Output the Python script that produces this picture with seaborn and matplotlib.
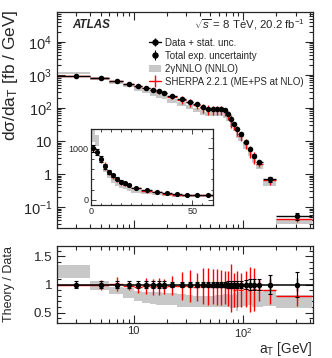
import numpy as np
import pandas as pd
import matplotlib.pyplot as plt
import seaborn as sns
from matplotlib.ticker import LogLocator, MultipleLocator, FuncFormatter, NullFormatter
from matplotlib.patches import Patch
from matplotlib.lines import Line2D

# binning in a_T [GeV]
edges = [0, 2, 4, 6, 8, 10, 12, 14, 16, 18, 20, 25, 30, 35, 40, 45, 50, 55, 60, 65, 70,
         75, 80, 85, 90, 100, 110, 120, 130, 150, 200, 420]
centers = [1, 3, 5, 7, 9, 11, 13, 15, 17, 19, 22.5, 27.5, 32.5, 37.5, 42.5, 47.5, 52.5, 57.5,
           62.5, 67.5, 72.5, 77.5, 82.5, 87.5, 95, 105, 115, 125, 140, 175, 310]

# dsigma/da_T [fb/GeV]
data_xs = [1000, 930, 790, 650, 540, 475, 410, 355, 318, 288, 226, 184, 151, 127, 105, 95,
           93, 92, 92, 84, 66, 46, 33, 23, 16.3, 9.3, 5.7, 3.6, 2.26, 0.71, 0.054]
stat_rel = [0.02] * 18 + [0.03, 0.03, 0.04, 0.04, 0.05, 0.05, 0.05, 0.06, 0.07, 0.08, 0.08, 0.10, 0.12]
tot_rel = [0.07] * 10 + [0.05] * 8 + [0.05, 0.05, 0.06, 0.06, 0.07, 0.07, 0.07, 0.08, 0.09, 0.10,
                                     0.10, 0.16, 0.22]

# theory / data
nnlo_ratio = [1.25, 1.235, 0.98, 0.89, 0.85, 0.79, 0.77, 0.76, 0.75, 0.74, 0.74, 0.72, 0.71,
              0.70, 0.70, 0.70, 0.70, 0.71, 0.71, 0.72, 0.72, 0.70, 0.72, 0.68, 0.73, 0.75,
              0.76, 0.74, 0.74, 0.75, 0.70]
nnlo_half = [0.12, 0.115, 0.08, 0.065, 0.08, 0.09, 0.10, 0.10, 0.11, 0.11, 0.11, 0.11, 0.10,
             0.10, 0.10, 0.10, 0.10, 0.10, 0.11, 0.11, 0.11, 0.12, 0.13, 0.14, 0.13, 0.13,
             0.13, 0.13, 0.13, 0.13, 0.11]
sherpa_ratio = [0.98, 0.99, 0.99, 1.01, 0.98, 0.95, 0.97, 0.96, 0.97, 0.96, 0.98, 0.97, 0.97,
                0.96, 0.97, 0.97, 0.96, 0.96, 0.95, 0.95, 0.93, 0.94, 0.90, 0.92, 0.90, 0.92,
                0.91, 0.92, 0.90, 0.91, 0.80]
sherpa_err = [0.05, 0.05, 0.09, 0.12, 0.07, 0.10, 0.14, 0.14, 0.15, 0.13, 0.17, 0.25, 0.28,
              0.25, 0.32, 0.33, 0.31, 0.32, 0.31, 0.29, 0.31, 0.42, 0.30, 0.32, 0.30, 0.32,
              0.40, 0.38, 0.20, 0.25, 0.18]

df = pd.DataFrame({"x": centers, "lo": edges[:-1], "hi": edges[1:], "y": data_xs,
                   "stat": stat_rel, "tot": tot_rel, "nc": nnlo_ratio, "nh": nnlo_half,
                   "sc": sherpa_ratio, "se": sherpa_err})
df["w"] = df["hi"] - df["lo"]
xerr = [df["x"] - df["lo"], df["hi"] - df["x"]]

sns.set_theme(style="ticks")
plt.rcParams["font.family"] = ["Liberation Sans", "DejaVu Sans"]
plt.rcParams["mathtext.fontset"] = "custom"
plt.rcParams["mathtext.rm"] = "Liberation Sans"
plt.rcParams["mathtext.it"] = "Liberation Sans:italic"
plt.rcParams["mathtext.bf"] = "Liberation Sans:bold"
plt.rcParams["axes.linewidth"] = 0.9

GRAY = "#c8c8c8"
RED = "#ff0000"

fig = plt.figure(figsize=(3.32, 3.58), dpi=100)
ax = fig.add_axes([0.1717, 0.3623, 0.771, 0.6045])
axr = fig.add_axes([0.1717, 0.0978, 0.771, 0.215])
axi = fig.add_axes([0.273, 0.4274, 0.3675, 0.2114])


def draw(a, ratio=False, ms=16):
    if ratio:
        nlo = df["nc"] - df["nh"]
        nhi = df["nc"] + df["nh"]
        sy = df["sc"]
        se = df["se"]
        dy = np.ones(len(df))
    else:
        nlo = df["y"] * (df["nc"] - df["nh"])
        nhi = df["y"] * (df["nc"] + df["nh"])
        sy = df["y"] * df["sc"]
        se = df["y"] * df["sc"] * df["se"]
        dy = df["y"]
    a.bar(df["lo"], nhi - nlo, bottom=nlo, width=df["w"], align="edge", color=GRAY, lw=0, zorder=1)
    a.errorbar(df["x"], sy, xerr=xerr, yerr=se, fmt="none", ecolor=RED, elinewidth=1.0, zorder=2)
    if ratio:
        a.axhline(1.0, color="black", lw=1.1, zorder=3)
        a.errorbar(df["x"], dy, yerr=df["tot"], fmt="none", ecolor="black", elinewidth=0.8,
                   capsize=1.2, capthick=0.8, zorder=3)
        a.errorbar(df["x"], dy, yerr=df["stat"], fmt="none", ecolor="black", elinewidth=1.0, zorder=3)
    else:
        a.errorbar(df["x"], dy, xerr=xerr, yerr=dy * df["stat"], fmt="none", ecolor="black",
                   elinewidth=1.0, zorder=3)
        a.errorbar(df["x"], dy, yerr=dy * df["tot"], fmt="none", ecolor="black", elinewidth=0.8,
                   capsize=1.2, capthick=0.8, zorder=3)
    sns.scatterplot(x=df["x"], y=dy, ax=a, color="black", s=ms, linewidth=0, zorder=5, legend=False)


def log_fmt(v, pos):
    e = int(round(np.log10(v)))
    if e == 0:
        return "1"
    if e == 1:
        return "10"
    return r"$10^{%d}$" % e


# main panel
ax.set_xscale("log")
ax.set_yscale("log")
draw(ax)
ax.set_xlim(2, 430)
ax.set_ylim(0.023, 8e4)
ax.yaxis.set_major_locator(LogLocator(base=10, numticks=20))
ax.yaxis.set_minor_locator(LogLocator(base=10, subs=np.arange(2, 10), numticks=20))
ax.yaxis.set_major_formatter(FuncFormatter(log_fmt))
ax.yaxis.set_minor_formatter(NullFormatter())
ax.xaxis.set_major_formatter(NullFormatter())
ax.xaxis.set_minor_formatter(NullFormatter())
ax.tick_params(which="both", direction="in", top=True, right=True, labelsize=10.5, width=0.8)
ax.tick_params(which="major", length=5.5)
ax.tick_params(which="minor", length=2.8)
ax.set_xlabel("")
ax.set_ylabel("dσ/da$_{\\mathrm{T}}$ [fb / GeV]", fontsize=12.5, loc="top")
ax.yaxis.set_label_coords(-0.145, 1.01)

ax.text(0.059, 0.939, "ATLAS", transform=ax.transAxes, fontsize=8.4, fontweight="bold",
        fontstyle="italic", va="center", ha="left")
ax.text(0.969, 0.939, r"$\sqrt{s}$ = 8 TeV, 20.2 fb$^{-1}$", transform=ax.transAxes, fontsize=8.2,
        va="center", ha="right")

h_data = (Line2D([], [], color="black", lw=1.0, marker="o", ms=3.6),
          Line2D([], [], color="black", lw=0, marker="|", ms=6, mew=1.0))
h_tot = (Line2D([], [], color="black", lw=0, marker="o", ms=3.6),
         Line2D([], [], color="black", lw=0, marker="|", ms=7, mew=0.8))
h_nnlo = Patch(facecolor=GRAY, edgecolor="none")
h_sh = (Line2D([], [], color=RED, lw=1.0),
        Line2D([], [], color=RED, lw=0, marker="|", ms=9, mew=1.0))
ax.legend([h_data, h_tot, h_nnlo, h_sh],
          ["Data + stat. unc.", "Total exp. uncertainty", "2γNNLO (NNLO)", "SHERPA 2.2.1 (ME+PS at NLO)"],
          loc="upper left", bbox_to_anchor=(0.36, 0.88), frameon=False, fontsize=7,
          handlelength=1.2, handletextpad=0.4, labelspacing=0.3, borderaxespad=0, borderpad=0)

# inset
draw(axi, ms=14)
axi.set_xlim(0, 60)
axi.set_ylim(-100, 1370)
axi.xaxis.set_major_locator(MultipleLocator(50))
axi.xaxis.set_minor_locator(MultipleLocator(5))
axi.yaxis.set_major_locator(MultipleLocator(1000))
axi.yaxis.set_minor_locator(MultipleLocator(200))
axi.tick_params(which="both", direction="in", top=True, right=True, labelsize=6.5, width=0.6, pad=1.5)
axi.tick_params(which="major", length=3.5)
axi.tick_params(which="minor", length=1.8)
axi.set_xlabel("")
axi.set_ylabel("")
for s in axi.spines.values():
    s.set_linewidth(0.9)

# ratio panel
axr.set_xscale("log")
draw(axr, ratio=True)
axr.set_xlim(2, 430)
axr.set_ylim(0.32, 1.68)
axr.yaxis.set_major_locator(MultipleLocator(0.5))
axr.yaxis.set_minor_locator(MultipleLocator(0.1))
axr.yaxis.set_major_formatter(FuncFormatter(lambda v, p: "%g" % v))
axr.xaxis.set_major_formatter(FuncFormatter(log_fmt))
axr.xaxis.set_minor_formatter(NullFormatter())
axr.tick_params(which="both", direction="in", top=True, right=True, width=0.8)
axr.tick_params(axis="y", labelsize=9.5)
axr.tick_params(axis="x", labelsize=8, pad=2)
axr.tick_params(which="major", length=5.5)
axr.tick_params(which="minor", length=2.8)
axr.set_xlabel("a$_{\\mathrm{T}}$ [GeV]", fontsize=9.8, loc="right", labelpad=0)
axr.set_ylabel("Theory / Data", fontsize=9, loc="top")
axr.yaxis.set_label_coords(-0.165, 1.0)

fig.savefig("out.png", dpi=100)
